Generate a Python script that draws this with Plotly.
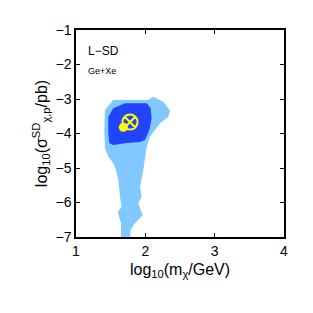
import plotly.graph_objects as go

# 68% / 95% credible region outlines (log10 m, log10 sigma)
outer_x = [1.418, 1.538, 2.043, 2.115, 2.26, 2.356, 2.331, 2.212, 2.139, 2.067, 2.019, 1.995, 1.971,
           1.923, 1.947, 1.899, 1.962, 1.851, 1.788, 1.779, 1.649, 1.649, 1.601, 1.659, 1.635, 1.611,
           1.577, 1.538, 1.466, 1.418, 1.408]
outer_y = [-3.319, -3.029, -3.029, -2.932, -3.078, -3.338, -3.513, -3.705, -3.899, -4.092, -4.382,
           -4.768, -5.058, -5.541, -5.831, -6.024, -6.362, -6.604, -6.797, -7.05, -7.05, -6.604,
           -6.265, -6.121, -5.831, -5.348, -5.058, -4.865, -4.671, -4.43, -3.899]
inner_x = [1.466, 1.538, 1.707, 2.019, 2.077, 2.091, 2.057, 1.995, 1.923, 1.731, 1.538, 1.480, 1.466]
inner_y = [-3.513, -3.271, -3.126, -3.126, -3.271, -3.561, -3.899, -4.188, -4.246, -4.275, -4.333,
           -4.275, -3.995]
best_fit = (1.779, -3.67)
true_pt = (1.683, -3.82)

x_ticks = [1, 2, 3, 4]
y_ticks = [-7, -6, -5, -4, -3, -2, -1]

FONT = "Liberation Sans, Arial, sans-serif"

fig = go.Figure()
fig.add_trace(go.Scatter(x=outer_x, y=outer_y, fill="toself", mode="lines",
                         line=dict(width=0, color="#80C8FF"), fillcolor="#80C8FF",
                         hoverinfo="skip", showlegend=False))
fig.add_trace(go.Scatter(x=inner_x, y=inner_y, fill="toself", mode="lines",
                         line=dict(width=0, color="#2244FF"), fillcolor="#2244FF",
                         hoverinfo="skip", showlegend=False))
fig.add_trace(go.Scatter(x=[true_pt[0]], y=[true_pt[1]], mode="markers",
                         marker=dict(symbol="circle", size=9, color="#FFFF00"),
                         showlegend=False))
fig.add_trace(go.Scatter(x=[best_fit[0]], y=[best_fit[1]], mode="markers",
                         marker=dict(symbol="circle-x-open", size=15, color="#FFFF00",
                                     line=dict(width=2, color="#FFFF00")),
                         showlegend=False))

axis_common = dict(showgrid=False, zeroline=False, showline=True, linecolor="black", linewidth=1.5,
                   mirror="allticks", ticks="inside", ticklen=4, tickcolor="black", automargin=False,
                   tickfont=dict(family=FONT, size=14, color="black"))

fig.update_xaxes(range=[1, 4], tickvals=x_ticks, ticktext=[str(v) for v in x_ticks],
                 title=dict(text="log<sub>10</sub>(m<sub>χ</sub>/GeV)", standoff=6,
                            font=dict(family=FONT, size=16, color="black")),
                 **axis_common)
fig.update_yaxes(range=[-7, -1], tickvals=y_ticks, ticktext=["−" + str(-v) for v in y_ticks],
                 title=dict(text="log<sub>10</sub>(σ<sup>SD</sup><sub>χ,p</sub>/pb)", standoff=4,
                            font=dict(family=FONT, size=16, color="black")),
                 **axis_common)

fig.add_annotation(x=0.05, y=0.90, xref="paper", yref="paper", text="L−SD", showarrow=False,
                   xanchor="left", yanchor="middle", font=dict(family=FONT, size=12, color="black"))
fig.add_annotation(x=0.05, y=0.80, xref="paper", yref="paper", text="Ge+Xe", showarrow=False,
                   xanchor="left", yanchor="middle", font=dict(family=FONT, size=9, color="black"))

fig.update_layout(width=313, height=313, margin=dict(l=68, r=37, t=22, b=84),
                  paper_bgcolor="white", plot_bgcolor="white")
fig.write_html("out.html")
